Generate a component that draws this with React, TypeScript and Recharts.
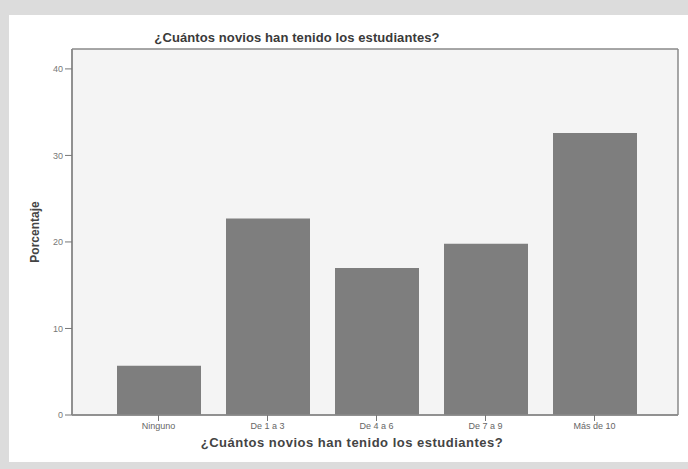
import React from "react";
import { BarChart, Bar, XAxis, YAxis, CartesianGrid } from "recharts";

const categories = ["Ninguno", "De 1 a 3", "De 4 a 6", "De 7 a 9", "Más de 10"];
const percentages = [5.7, 22.7, 17.0, 19.8, 32.6];
const yTicks = [0, 10, 20, 30, 40];
const title = "¿Cuántos novios han tenido los estudiantes?";
const yTitle = "Porcentaje";

const data = categories.map((c, i) => ({ name: c, value: percentages[i] }));

const FONT = "'Liberation Sans', Arial, sans-serif";
const FRAME = "#8a8a8a";

const hGen = (p: any) => {
  const o = p.offset || {};
  return [o.top, o.top + o.height];
};
const vGen = (p: any) => {
  const o = p.offset || {};
  return [o.left, o.left + o.width];
};

export default function App() {
  return (
    <div style={{ position: "fixed", left: 0, top: 0, width: 688, height: 469, background: "#dcdcdc", overflow: "hidden" }}>
      <div style={{ position: "absolute", left: 9, top: 15, width: 679, height: 447, background: "#ffffff" }} />
      <div
        style={{
          position: "absolute",
          left: 0,
          width: 594,
          top: 30,
          textAlign: "center",
          fontFamily: FONT,
          fontWeight: "bold",
          fontSize: 13,
          letterSpacing: 0.1,
          color: "#3a3a3a",
          whiteSpace: "nowrap",
        }}
      >
        {title}
      </div>
      <div style={{ position: "absolute", left: 0, top: 0 }}>
        <BarChart width={688} height={469} data={data} margin={{ top: 49, right: 10, bottom: 0, left: 0 }}>
          <CartesianGrid
            fill="#f4f4f4"
            stroke={FRAME}
            strokeWidth={1.5}
            horizontalCoordinatesGenerator={hGen}
            verticalCoordinatesGenerator={vGen}
          />
          <XAxis
            dataKey="name"
            height={54}
            padding={{ left: 32, right: 29 }}
            tickSize={6}
            tickLine={{ stroke: "#777" }}
            axisLine={{ stroke: FRAME, strokeWidth: 1.5 }}
            tick={{ fontFamily: FONT, fontSize: 9, fill: "#666" }}
            label={{
              value: title,
              position: "insideBottom",
              offset: 22,
              style: { fontFamily: FONT, fontWeight: "bold", fontSize: 13, fill: "#444", letterSpacing: 0.5 },
              dx: -23,
            }}
          />
          <YAxis
            width={72}
            domain={[0, 42.3]}
            ticks={yTicks}
            tickSize={7}
            tickLine={{ stroke: "#777" }}
            axisLine={{ stroke: FRAME, strokeWidth: 1.5 }}
            tick={{ fontFamily: FONT, fontSize: 9, fill: "#777" }}
            allowDataOverflow
            label={{
              value: yTitle,
              angle: -90,
              position: "insideLeft",
              offset: 35,
              style: { fontFamily: FONT, fontWeight: "bold", fontSize: 12, fill: "#444", textAnchor: "middle" },
            }}
          />
          <Bar dataKey="value" fill="#7e7e7e" barSize={84} isAnimationActive={false} />
        </BarChart>
      </div>
    </div>
  );
}
